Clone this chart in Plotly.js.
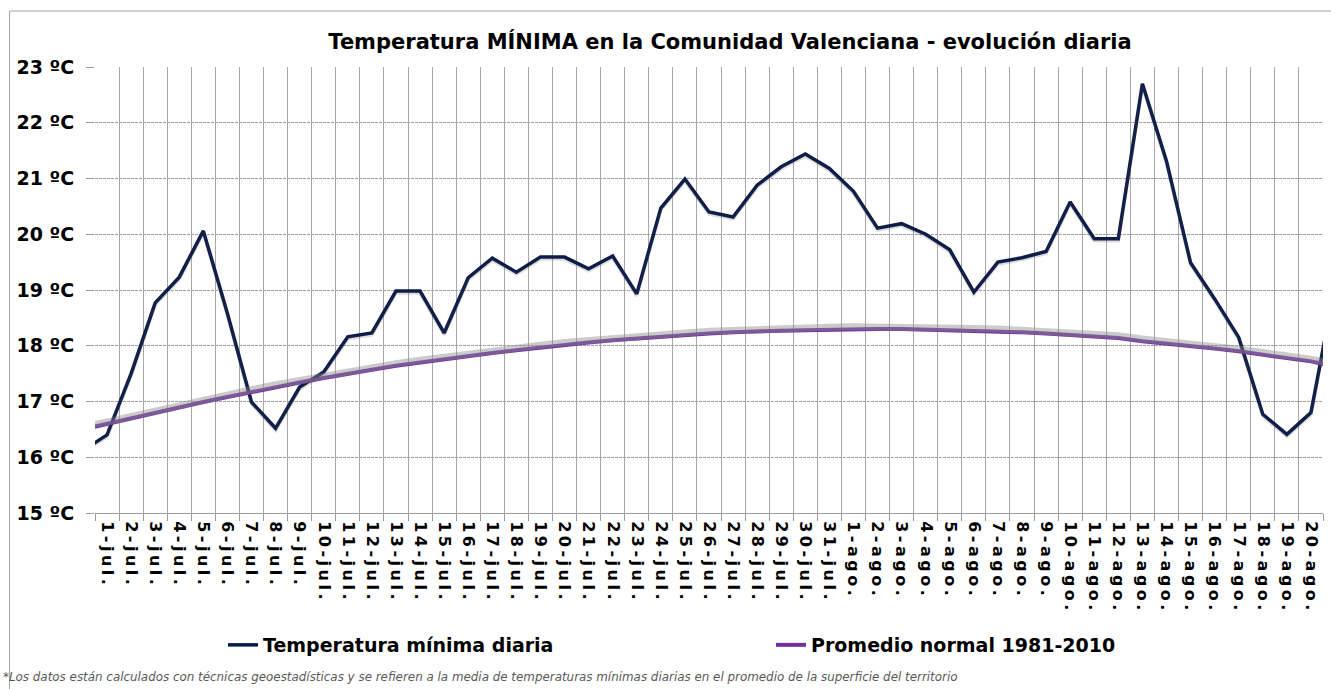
<!DOCTYPE html>
<html>
<head>
<meta charset="utf-8">
<script src="https://cdn.plot.ly/plotly-3.0.1.min.js"></script>
<style>
html,body{margin:0;padding:0;background:#fff;}
#chart{width:1331px;height:689px;}
#chart .xtick text{letter-spacing:3.5px;}
</style>
</head>
<body>
<div id="chart"></div>
<script>
// Categories (30-jun. and 21-ago. lie just outside the visible range; the lines run to the plot edges)
const days = ["30-jun.",
  "1-jul.","2-jul.","3-jul.","4-jul.","5-jul.","6-jul.","7-jul.","8-jul.","9-jul.","10-jul.",
  "11-jul.","12-jul.","13-jul.","14-jul.","15-jul.","16-jul.","17-jul.","18-jul.","19-jul.","20-jul.",
  "21-jul.","22-jul.","23-jul.","24-jul.","25-jul.","26-jul.","27-jul.","28-jul.","29-jul.","30-jul.","31-jul.",
  "1-ago.","2-ago.","3-ago.","4-ago.","5-ago.","6-ago.","7-ago.","8-ago.","9-ago.","10-ago.",
  "11-ago.","12-ago.","13-ago.","14-ago.","15-ago.","16-ago.","17-ago.","18-ago.","19-ago.","20-ago.",
  "21-ago."];

const tminDaily = [16.12,
  16.40,17.50,18.77,19.23,20.06,18.58,16.99,16.52,17.26,17.53,
  18.16,18.23,18.98,18.98,18.23,19.22,19.57,19.32,19.59,19.59,
  19.38,19.61,18.93,20.47,20.99,20.40,20.31,20.88,21.21,21.44,21.18,
  20.77,20.11,20.19,20.00,19.72,18.96,19.50,19.58,19.69,20.58,
  19.92,19.92,22.70,21.31,19.49,18.84,18.15,16.77,16.41,16.80,
  19.08];

const tminNormal = [16.50,
  16.60,16.70,16.80,16.90,16.99,17.08,17.17,17.26,17.34,17.42,
  17.50,17.57,17.64,17.70,17.76,17.82,17.87,17.92,17.97,18.02,
  18.06,18.10,18.13,18.17,18.19,18.22,18.24,18.26,18.27,18.28,18.29,
  18.30,18.30,18.30,18.29,18.28,18.27,18.26,18.24,18.22,18.19,
  18.17,18.14,18.08,18.04,18.00,17.95,17.90,17.84,17.79,17.72,
  17.63];

const yTickVals = [15,16,17,18,19,20,21,22,23];
const yTickText = ["15 ºC","16 ºC","17 ºC","18 ºC","19 ºC","20 ºC","21 ºC","22 ºC","23 ºC"];

const seriesNames = ["Temperatura mínima diaria","Promedio normal 1981-2010"];
const titleText = "Temperatura MÍNIMA en la Comunidad Valenciana - evolución diaria";
const footText = "*Los datos están calculados con técnicas geoestadísticas y se refieren a la media de temperaturas mínimas diarias en el promedio de la superficie del territorio";

const FONT = "DejaVu Sans, Verdana, sans-serif";
const W = 1331, H = 689;
const L = 95, R = 1323, T = 67, B = 513;
const pw = R - L, ph = B - T;
const px = v => (v - L) / pw;
const py = v => (B - v) / ph;

const traces = [
  // soft shadows
  {x: days, y: tminNormal, type: "scatter", mode: "lines", xaxis: "x", yaxis: "y2",
   line: {color: "rgba(140,140,140,0.45)", width: 7},
   showlegend: false, hoverinfo: "skip"},
  {x: days, y: tminDaily, type: "scatter", mode: "lines", xaxis: "x", yaxis: "y3",
   line: {color: "rgba(60,60,60,0.18)", width: 3.5},
   showlegend: false, hoverinfo: "skip"},
  {x: days, y: tminDaily, type: "scatter", mode: "lines", name: seriesNames[0],
   line: {color: "#0b1a4a", width: 3.5}},
  {x: days, y: tminNormal, type: "scatter", mode: "lines", name: seriesNames[1],
   line: {color: "#7030a0", width: 4}}
];

const layout = {
  width: W, height: H,
  paper_bgcolor: "#ffffff", plot_bgcolor: "rgba(0,0,0,0)",
  margin: {l: L, r: W - R, t: T, b: H - B, pad: 0},
  font: {family: FONT, color: "#000"},
  title: {text: "<b>" + titleText + "</b>", font: {family: FONT, size: 21, color: "#000"},
          x: 730 / W, xref: "container", xanchor: "center",
          y: 1 - 42 / H, yref: "container", yanchor: "middle"},
  xaxis: {
    type: "category", range: [0.5, 51.5], tickmode: "linear", tick0: 0, dtick: 1,
    tickson: "boundaries", ticks: "outside", ticklen: 7, tickcolor: "#9a9a9a", tickwidth: 1,
    showgrid: true, gridcolor: "#a8a8a8", gridwidth: 1,
    showline: true, linecolor: "#9a9a9a", linewidth: 1, mirror: false,
    tickangle: 90, ticklabelstandoff: 4,
    tickfont: {family: FONT, size: 16, color: "#000", weight: "bold"},
    zeroline: false, fixedrange: true
  },
  yaxis: {
    range: [15, 23], tickvals: yTickVals, ticktext: yTickText,
    ticks: "outside", ticklen: 8, tickcolor: "#9a9a9a",
    showgrid: true, gridcolor: "#a0a0a0", gridwidth: 1, griddash: "3px,1px",
    showline: false, zeroline: false, ticklabelstandoff: 8,
    tickfont: {family: FONT, size: 19, color: "#000", weight: "bold"}, fixedrange: true
  },
  yaxis2: {overlaying: "y", range: [15 - 0.04, 23 - 0.04], visible: false, fixedrange: true},
  yaxis3: {overlaying: "y", range: [15 + 0.035, 23 + 0.035], visible: false, fixedrange: true},
  showlegend: true,
  legend: {orientation: "h", x: px(223), xanchor: "left", y: py(645), yanchor: "middle",
           entrywidth: 503, entrywidthmode: "pixels",
           font: {family: FONT, size: 19, color: "#000", weight: "bold"},
           bgcolor: "rgba(0,0,0,0)", itemwidth: 30, traceorder: "normal"},
  annotations: [
    {text: footText, xref: "paper", yref: "paper", x: px(1), y: py(677),
     xanchor: "left", yanchor: "middle", showarrow: false,
     font: {family: FONT, size: 11.9, color: "#595959", style: "italic"}}
  ],
  shapes: [
    {type: "rect", xref: "paper", yref: "paper", x0: px(9.5), x1: px(1400), y0: py(760), y1: py(11),
     line: {color: "#a6a6a6", width: 1}, fillcolor: "rgba(0,0,0,0)", layer: "below"}
  ]
};

Plotly.newPlot("chart", traces, layout, {displayModeBar: false, staticPlot: true});
</script>
</body>
</html>
